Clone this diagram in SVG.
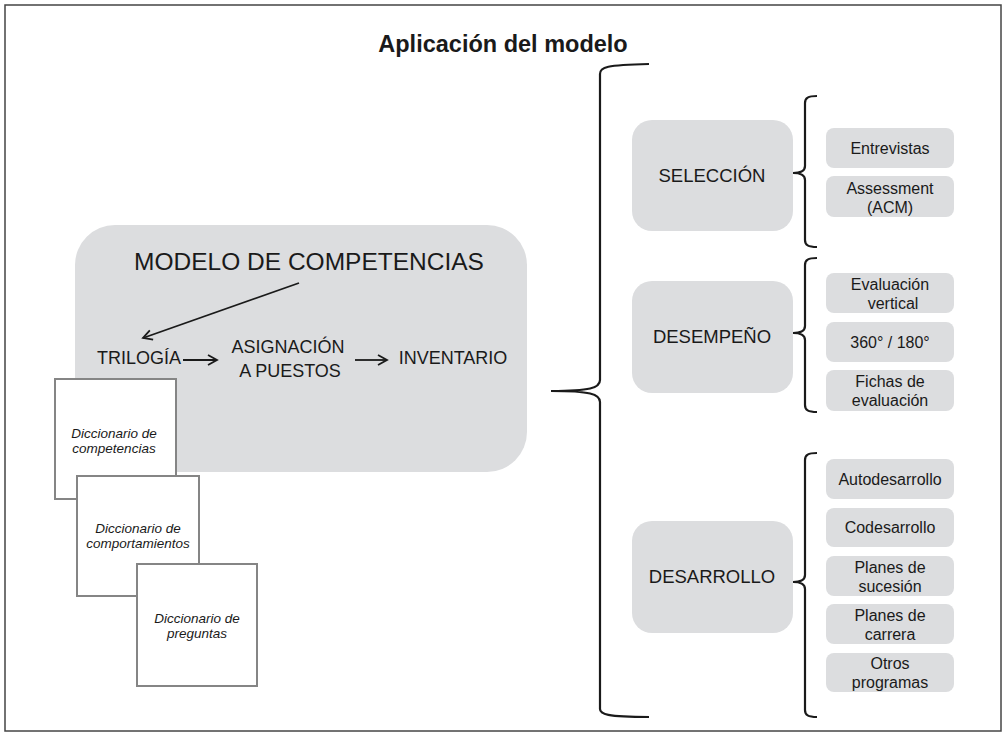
<svg xmlns="http://www.w3.org/2000/svg" width="1006" height="736" viewBox="0 0 1006 736">
<defs>
<marker id="ah" markerWidth="12" markerHeight="12" refX="10" refY="6" orient="auto" markerUnits="userSpaceOnUse">
<path d="M1,1 L10,6 L1,11" fill="none" stroke="#1a1a1a" stroke-width="1.8"/>
</marker>
</defs>
<style>
text{font-family:"Liberation Sans",Arial,sans-serif;fill:#1a1a1a;text-anchor:middle}
.g{fill:#dcdddf}
.dict{fill:#fff;stroke:#858585;stroke-width:2}
.it{font-style:italic;font-size:13.5px}
.mid{font-size:18.5px}
.sm{font-size:16px}
.big{font-size:18px}
.br{fill:none;stroke:#1a1a1a;stroke-width:2.2}
.arr{fill:none;stroke:#1a1a1a;stroke-width:1.8}
</style>
<rect x="5" y="5" width="996" height="726" fill="#fff" stroke="#444" stroke-width="1.5"/>
<text x="503" y="52" style="font-size:23.5px;font-weight:bold">Aplicación del modelo</text>

<g id="modelo">
<rect class="g" x="75" y="225" width="452" height="247" rx="40"/>
<text x="309" y="270" style="font-size:24.5px">MODELO DE COMPETENCIAS</text>
</g>
<g id="trilogia"><text class="big" x="139" y="364">TRILOGÍA</text></g>
<g id="asignacion"><text class="big" x="288" y="353">ASIGNACIÓN</text><text class="big" x="290" y="377">A PUESTOS</text></g>
<g id="inventario"><text class="big" x="453" y="364">INVENTARIO</text></g>

<g id="dict1"><rect class="dict" x="55" y="379" width="121" height="120"/><text class="it" x="114" y="438">Diccionario de</text><text class="it" x="114" y="453">competencias</text></g>
<g id="dict2"><rect class="dict" x="77" y="476" width="122" height="120"/><text class="it" x="138" y="533">Diccionario de</text><text class="it" x="138" y="548">comportamientos</text></g>
<g id="dict3"><rect class="dict" x="137" y="564" width="120" height="122"/><text class="it" x="197" y="623">Diccionario de</text><text class="it" x="197" y="638">preguntas</text></g>

<g id="seleccion"><rect class="g" x="632" y="120" width="161" height="111" rx="20"/><text class="mid" x="712" y="182">SELECCIÓN</text></g>
<g id="desempeno"><rect class="g" x="632" y="281" width="161" height="112" rx="20"/><text class="mid" x="712" y="343">DESEMPEÑO</text></g>
<g id="desarrollo"><rect class="g" x="632" y="521" width="161" height="112" rx="20"/><text class="mid" x="712" y="583">DESARROLLO</text></g>

<g id="entrevistas"><rect class="g" x="826" y="128" width="128" height="40" rx="8"/><text class="sm" x="890" y="154">Entrevistas</text></g>
<g id="assessment"><rect class="g" x="826" y="176" width="128" height="41" rx="8"/><text class="sm" x="890" y="194">Assessment</text><text class="sm" x="890" y="213">(ACM)</text></g>
<g id="evalvert"><rect class="g" x="826" y="273" width="128" height="40" rx="8"/><text class="sm" x="890" y="290">Evaluación</text><text class="sm" x="893" y="309">vertical</text></g>
<g id="e360"><rect class="g" x="826" y="322" width="128" height="40" rx="8"/><text class="sm" x="890" y="348">360° / 180°</text></g>
<g id="fichas"><rect class="g" x="826" y="370" width="128" height="41" rx="8"/><text class="sm" x="890" y="387">Fichas de</text><text class="sm" x="890" y="406">evaluación</text></g>
<g id="autodes"><rect class="g" x="826" y="459" width="128" height="40" rx="8"/><text class="sm" x="890" y="485">Autodesarrollo</text></g>
<g id="codes"><rect class="g" x="826" y="508" width="128" height="39" rx="8"/><text class="sm" x="890" y="533">Codesarrollo</text></g>
<g id="sucesion"><rect class="g" x="826" y="556" width="128" height="40" rx="8"/><text class="sm" x="890" y="573">Planes de</text><text class="sm" x="890" y="592">sucesión</text></g>
<g id="carrera"><rect class="g" x="826" y="604" width="128" height="40" rx="8"/><text class="sm" x="890" y="621">Planes de</text><text class="sm" x="890" y="640">carrera</text></g>
<g id="otros"><rect class="g" x="826" y="653" width="128" height="39" rx="8"/><text class="sm" x="890" y="669">Otros</text><text class="sm" x="890" y="688">programas</text></g>

<g id="connectors">
<line class="arr" x1="299" y1="283" x2="143" y2="338" marker-end="url(#ah)"/>
<line class="arr" x1="183" y1="360" x2="217" y2="360" marker-end="url(#ah)"/>
<line class="arr" x1="355" y1="360" x2="387" y2="360" marker-end="url(#ah)"/>
<path class="br" d="M649,64 C606,65 600,67 600,74 L600,380 C600,388 590,391 551,391 C590,391 600,394 600,402 L600,709 C600,714 606,717 649,717"/>
<path class="br" d="M817,96 C808,96 805,98 805,103 L805,166 C805,171 800,173 793,173 C800,173 805,175 805,180 L805,240 C805,245 808,247 817,247"/>
<path class="br" d="M817,258 C808,258 805,260 805,265 L805,326 C805,331 800,333 793,333 C800,333 805,335 805,340 L805,405 C805,410 808,412 817,412"/>
<path class="br" d="M817,453 C808,453 805,455 805,460 L805,575 C805,580 800,582 793,582 C800,582 805,584 805,589 L805,710 C805,715 808,717 817,717"/>
</g>
</svg>
